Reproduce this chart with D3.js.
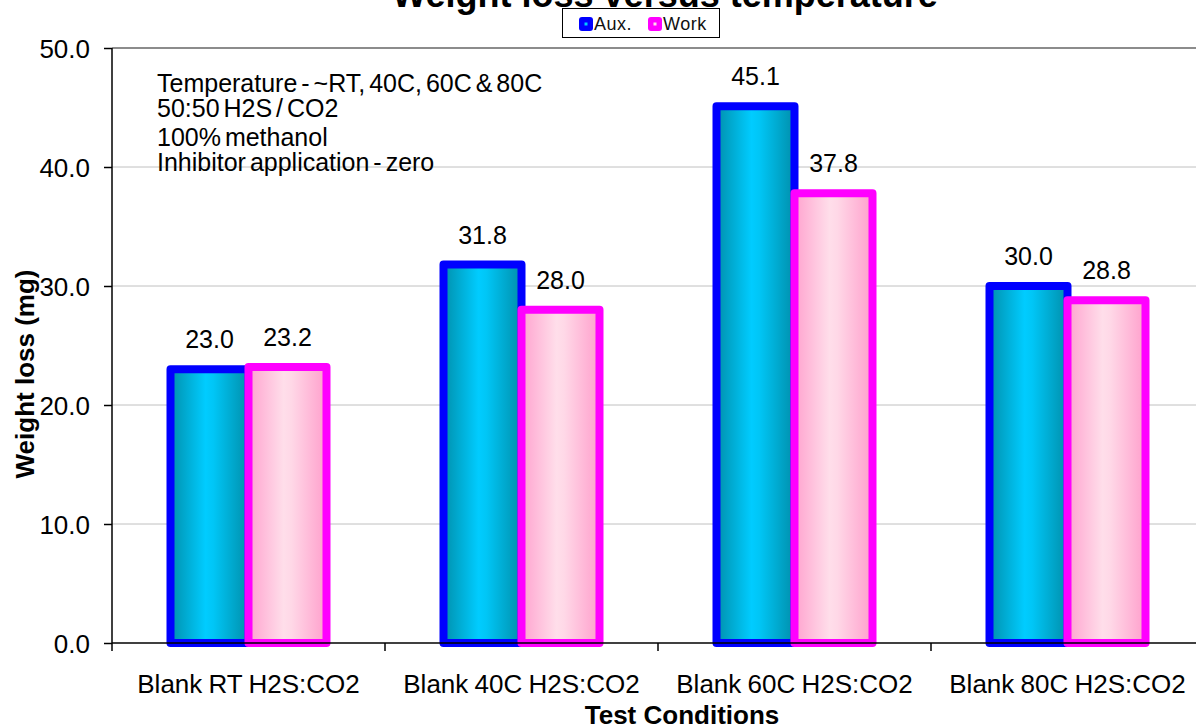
<!DOCTYPE html>
<html>
<head>
<meta charset="utf-8">
<script src="https://cdn.jsdelivr.net/npm/d3@7"></script>
<style>
  html, body { margin: 0; padding: 0; background: #fff; }
  svg { display: block; font-family: Arial, "Liberation Sans", sans-serif; }
</style>
</head>
<body>
<svg id="chart" width="1196" height="724"></svg>
<script>
// Weight loss data per test condition
const categories = ["Blank RT H2S:CO2", "Blank 40C H2S:CO2", "Blank 60C H2S:CO2", "Blank 80C H2S:CO2"];
const seriesNames = ["Aux.", "Work"];
const auxValues = [23.0, 31.8, 45.1, 30.0];
const workValues = [23.2, 28.0, 37.8, 28.8];
const yTicks = [0, 10, 20, 30, 40, 50];
const notes = ["Temperature - ~RT, 40C, 60C & 80C", "50:50 H2S / CO2", "100% methanol", "Inhibitor application - zero"];

const seriesValues = [auxValues, workValues];
const seriesStroke = ["#0000ff", "#ff00ff"];

const svg = d3.select("#chart");
const defs = svg.append("defs");

// Cylinder-like horizontal gradients for the bar fills
const gAux = defs.append("linearGradient").attr("id", "gradAux").attr("x1", "0").attr("x2", "1").attr("y1", "0").attr("y2", "0");
[["0%", "#0090ad"], ["45%", "#00ccff"], ["55%", "#00c6f6"], ["100%", "#008fab"]].forEach(([o, c]) =>
  gAux.append("stop").attr("offset", o).attr("stop-color", c));
const gWork = defs.append("linearGradient").attr("id", "gradWork").attr("x1", "0").attr("x2", "1").attr("y1", "0").attr("y2", "0");
[["0%", "#ffa3cf"], ["45%", "#ffdeea"], ["55%", "#ffd8e7"], ["100%", "#ff9fcc"]].forEach(([o, c]) =>
  gWork.append("stop").attr("offset", o).attr("stop-color", c));
const fills = ["url(#gradAux)", "url(#gradWork)"];

const plotLeft = 112, plotRight = 1204, plotTop = 48, plotBottom = 643;

const x = d3.scaleBand().domain(categories).range([plotLeft, plotRight]).padding(0);
const xSub = d3.scaleBand().domain(seriesNames).range([-78, 78]).padding(0);
const y = d3.scaleLinear().domain([0, 50]).range([plotBottom, plotTop]);

// Gridlines
svg.append("g").selectAll("line").data(yTicks.filter(t => t > 0 && t < 50)).join("line")
  .attr("x1", plotLeft).attr("x2", plotRight)
  .attr("y1", d => y(d)).attr("y2", d => y(d))
  .attr("stroke", "#c0c0c0").attr("stroke-width", 1);
svg.append("line").attr("x1", plotLeft).attr("x2", plotRight).attr("y1", y(50)).attr("y2", y(50))
  .attr("stroke", "#8c8c8c").attr("stroke-width", 2);

// Bars
seriesNames.forEach((s, si) => {
  const g = svg.append("g");
  g.selectAll("rect").data(categories).join("rect")
    .attr("x", c => x(c) + x.bandwidth() / 2 + xSub(s))
    .attr("width", xSub.bandwidth())
    .attr("y", (c, i) => y(seriesValues[si][i]))
    .attr("height", (c, i) => y(0) - y(seriesValues[si][i]))
    .attr("fill", fills[si])
    .attr("stroke", seriesStroke[si])
    .attr("stroke-width", 8)
    .attr("stroke-linejoin", "round");
});

// Value labels
seriesNames.forEach((s, si) => {
  svg.append("g").selectAll("text").data(categories).join("text")
    .attr("x", c => x(c) + x.bandwidth() / 2 + xSub(s) + xSub.bandwidth() / 2)
    .attr("y", (c, i) => y(seriesValues[si][i]) - 21)
    .attr("text-anchor", "middle")
    .attr("font-size", 25)
    .attr("fill", "#000")
    .text((c, i) => seriesValues[si][i].toFixed(1));
});

// Y axis
const yAxis = svg.append("g").attr("transform", `translate(${plotLeft},0)`)
  .call(d3.axisLeft(y).tickValues(yTicks).tickSize(8).tickPadding(14).tickFormat(d3.format(".1f")));
yAxis.select(".domain").attr("stroke", "#000").attr("stroke-width", 1.5).attr("d", `M0,${plotTop}V${plotBottom}`);
yAxis.selectAll(".tick line").attr("stroke", "#000").attr("stroke-width", 1.5);
yAxis.selectAll(".tick text").attr("font-size", 26).attr("font-family", "Arial, 'Liberation Sans', sans-serif").attr("fill", "#000").attr("dy", "0.35em");

// X axis with ticks at category boundaries
const xAxis = svg.append("g").attr("transform", `translate(0,${plotBottom})`);
xAxis.append("line").attr("x1", plotLeft).attr("x2", plotRight).attr("stroke", "#000").attr("stroke-width", 1.5);
xAxis.selectAll("line.tk").data(categories).join("line").attr("class", "tk")
  .attr("x1", c => x(c)).attr("x2", c => x(c)).attr("y1", 0).attr("y2", 8)
  .attr("stroke", "#000").attr("stroke-width", 1.5);
xAxis.selectAll("text").data(categories).join("text")
  .attr("x", c => x(c) + x.bandwidth() / 2)
  .attr("y", 50)
  .attr("text-anchor", "middle")
  .attr("font-size", 26)
  .attr("word-spacing", "-1")
  .text(c => c);

// Annotation block
const noteY = [92, 117, 146, 171];
svg.append("g").selectAll("text").data(notes).join("text")
  .attr("x", 157).attr("y", (d, i) => noteY[i])
  .attr("font-size", 25)
  .attr("word-spacing", "-3")
  .text(d => d);

// Titles
svg.append("text").attr("x", 665).attr("y", 7).attr("text-anchor", "middle")
  .attr("font-size", 36).attr("font-weight", "bold").text("Weight loss versus temperature");
svg.append("text").attr("transform", "translate(34,374) rotate(-90)").attr("text-anchor", "middle")
  .attr("font-size", 26).attr("font-weight", "bold").text("Weight loss (mg)");
svg.append("text").attr("x", 682).attr("y", 724).attr("text-anchor", "middle")
  .attr("font-size", 26).attr("font-weight", "bold").text("Test Conditions");

// Legend
const legend = svg.append("g");
legend.append("rect").attr("x", 562.5).attr("y", 8.5).attr("width", 157).attr("height", 29)
  .attr("fill", "#fff").attr("stroke", "#000").attr("stroke-width", 1);
const legendX = [579, 648];
const legendInner = ["#00ccff", "#ffdeea"];
seriesNames.forEach((s, si) => {
  legend.append("rect").attr("x", legendX[si]).attr("y", 17).attr("width", 14).attr("height", 14).attr("rx", 3)
    .attr("fill", seriesStroke[si]);
  legend.append("rect").attr("x", legendX[si] + 5.5).attr("y", 22.5).attr("width", 3).attr("height", 3)
    .attr("fill", legendInner[si]);
  legend.append("text").attr("x", legendX[si] + 15).attr("y", 30)
    .attr("font-size", 18).attr("letter-spacing", "0.5").attr("fill", "#111").text(s);
});
</script>
</body>
</html>
